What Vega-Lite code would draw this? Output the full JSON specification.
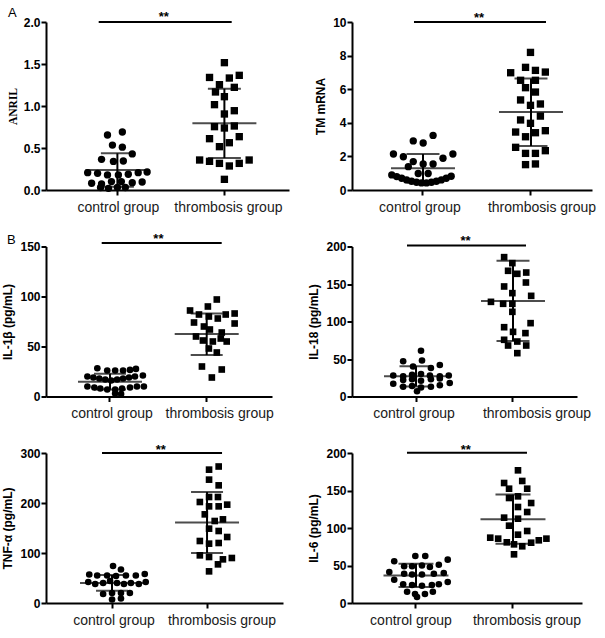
{
"$schema": "https://vega.github.io/schema/vega-lite/v6.json",
"background": "white",
"padding": {"left": 1, "top": 6, "right": 5, "bottom": 2},
"datasets": {
"pts": [
{"p":"ANRIL","g":"control group","v":0.655,"j":-1.0},{"p":"ANRIL","g":"control group","v":0.69,"j":0.5},{"p":"ANRIL","g":"control group","v":0.535,"j":-0.5},{"p":"ANRIL","g":"control group","v":0.51,"j":0.5},{"p":"ANRIL","g":"control group","v":0.43,"j":1.5},{"p":"ANRIL","g":"control group","v":0.365,"j":-1.6},{"p":"ANRIL","g":"control group","v":0.34,"j":-0.4},{"p":"ANRIL","g":"control group","v":0.345,"j":0.6},{"p":"ANRIL","g":"control group","v":0.206,"j":-3.0},{"p":"ANRIL","g":"control group","v":0.198,"j":-2.0},{"p":"ANRIL","g":"control group","v":0.18,"j":-1.0},{"p":"ANRIL","g":"control group","v":0.18,"j":0.1},{"p":"ANRIL","g":"control group","v":0.187,"j":1.1},{"p":"ANRIL","g":"control group","v":0.206,"j":2.1},{"p":"ANRIL","g":"control group","v":0.214,"j":3.0},{"p":"ANRIL","g":"control group","v":0.08,"j":-2.6},{"p":"ANRIL","g":"control group","v":0.071,"j":-1.6},{"p":"ANRIL","g":"control group","v":0.1,"j":-0.6},{"p":"ANRIL","g":"control group","v":0.1,"j":0.4},{"p":"ANRIL","g":"control group","v":0.087,"j":1.5},{"p":"ANRIL","g":"control group","v":0.095,"j":2.5},{"p":"ANRIL","g":"control group","v":0.03,"j":-1.7},{"p":"ANRIL","g":"control group","v":0.02,"j":-0.9},{"p":"ANRIL","g":"control group","v":0.03,"j":0.0},{"p":"ANRIL","g":"control group","v":0.03,"j":0.8},
{"p":"ANRIL","g":"thrombosis group","v":1.516,"j":0},{"p":"ANRIL","g":"thrombosis group","v":1.34,"j":-1.5},{"p":"ANRIL","g":"thrombosis group","v":1.333,"j":0.5},{"p":"ANRIL","g":"thrombosis group","v":1.365,"j":1.5},{"p":"ANRIL","g":"thrombosis group","v":1.254,"j":-0.5},{"p":"ANRIL","g":"thrombosis group","v":1.167,"j":-0.9},{"p":"ANRIL","g":"thrombosis group","v":1.222,"j":1.0},{"p":"ANRIL","g":"thrombosis group","v":1.111,"j":0},{"p":"ANRIL","g":"thrombosis group","v":1.016,"j":-1.0},{"p":"ANRIL","g":"thrombosis group","v":0.944,"j":1.0},{"p":"ANRIL","g":"thrombosis group","v":0.905,"j":0},{"p":"ANRIL","g":"thrombosis group","v":0.754,"j":-1.0},{"p":"ANRIL","g":"thrombosis group","v":0.738,"j":0},{"p":"ANRIL","g":"thrombosis group","v":0.762,"j":1.0},{"p":"ANRIL","g":"thrombosis group","v":0.611,"j":-1.5},{"p":"ANRIL","g":"thrombosis group","v":0.635,"j":1.5},{"p":"ANRIL","g":"thrombosis group","v":0.516,"j":-0.5},{"p":"ANRIL","g":"thrombosis group","v":0.563,"j":0.5},{"p":"ANRIL","g":"thrombosis group","v":0.357,"j":-2.5},{"p":"ANRIL","g":"thrombosis group","v":0.341,"j":-1.5},{"p":"ANRIL","g":"thrombosis group","v":0.317,"j":-0.5},{"p":"ANRIL","g":"thrombosis group","v":0.286,"j":0.5},{"p":"ANRIL","g":"thrombosis group","v":0.317,"j":1.5},{"p":"ANRIL","g":"thrombosis group","v":0.357,"j":2.5},{"p":"ANRIL","g":"thrombosis group","v":0.127,"j":0},
{"p":"TM","g":"control group","v":3.25,"j":1.07},{"p":"TM","g":"control group","v":2.92,"j":-0.93},{"p":"TM","g":"control group","v":2.8,"j":0.07},{"p":"TM","g":"control group","v":2.14,"j":-2.93},{"p":"TM","g":"control group","v":1.98,"j":-1.93},{"p":"TM","g":"control group","v":1.89,"j":2.07},{"p":"TM","g":"control group","v":2.14,"j":3.07},{"p":"TM","g":"control group","v":1.69,"j":-0.93},{"p":"TM","g":"control group","v":1.55,"j":0.07},{"p":"TM","g":"control group","v":1.55,"j":1.07},{"p":"TM","g":"control group","v":1.39,"j":-1.43},{"p":"TM","g":"control group","v":0.98,"j":-0.43},{"p":"TM","g":"control group","v":0.98,"j":0.57},{"p":"TM","g":"control group","v":0.9,"j":-3.1},{"p":"TM","g":"control group","v":0.8,"j":-2.6},{"p":"TM","g":"control group","v":0.7,"j":-2.1},{"p":"TM","g":"control group","v":0.6,"j":-1.6},{"p":"TM","g":"control group","v":0.52,"j":-1.1},{"p":"TM","g":"control group","v":0.46,"j":-0.6},{"p":"TM","g":"control group","v":0.42,"j":-0.1},{"p":"TM","g":"control group","v":0.42,"j":0.4},{"p":"TM","g":"control group","v":0.46,"j":0.9},{"p":"TM","g":"control group","v":0.52,"j":1.4},{"p":"TM","g":"control group","v":0.6,"j":1.9},{"p":"TM","g":"control group","v":0.7,"j":2.4},{"p":"TM","g":"control group","v":0.82,"j":2.9},
{"p":"TM","g":"thrombosis group","v":8.19,"j":0},{"p":"TM","g":"thrombosis group","v":7.3,"j":-0.5},{"p":"TM","g":"thrombosis group","v":7.12,"j":0.5},{"p":"TM","g":"thrombosis group","v":7.02,"j":1.5},{"p":"TM","g":"thrombosis group","v":6.98,"j":-2.0},{"p":"TM","g":"thrombosis group","v":6.53,"j":-1.0},{"p":"TM","g":"thrombosis group","v":6.53,"j":0.5},{"p":"TM","g":"thrombosis group","v":6.09,"j":-0.5},{"p":"TM","g":"thrombosis group","v":5.83,"j":0.5},{"p":"TM","g":"thrombosis group","v":5.36,"j":-1.0},{"p":"TM","g":"thrombosis group","v":5.04,"j":0},{"p":"TM","g":"thrombosis group","v":5.12,"j":1.0},{"p":"TM","g":"thrombosis group","v":4.4,"j":1.0},{"p":"TM","g":"thrombosis group","v":4.17,"j":-1.0},{"p":"TM","g":"thrombosis group","v":3.97,"j":0},{"p":"TM","g":"thrombosis group","v":3.45,"j":-1.5},{"p":"TM","g":"thrombosis group","v":3.17,"j":-0.5},{"p":"TM","g":"thrombosis group","v":3.41,"j":0.5},{"p":"TM","g":"thrombosis group","v":3.53,"j":1.5},{"p":"TM","g":"thrombosis group","v":2.54,"j":-1.5},{"p":"TM","g":"thrombosis group","v":2.34,"j":1.5},{"p":"TM","g":"thrombosis group","v":2.18,"j":-0.5},{"p":"TM","g":"thrombosis group","v":2.18,"j":0.5},{"p":"TM","g":"thrombosis group","v":1.51,"j":-0.5},{"p":"TM","g":"thrombosis group","v":1.55,"j":0.5},
{"p":"IL1b","g":"control group","v":28.3,"j":-1.8},{"p":"IL1b","g":"control group","v":26,"j":-0.8},{"p":"IL1b","g":"control group","v":26,"j":0},{"p":"IL1b","g":"control group","v":26,"j":0.8},{"p":"IL1b","g":"control group","v":26.6,"j":1.5},{"p":"IL1b","g":"control group","v":27.6,"j":2.1},{"p":"IL1b","g":"control group","v":20,"j":-2.8},{"p":"IL1b","g":"control group","v":19,"j":-2.2},{"p":"IL1b","g":"control group","v":18,"j":-1.6},{"p":"IL1b","g":"control group","v":17,"j":-1.0},{"p":"IL1b","g":"control group","v":16,"j":-0.4},{"p":"IL1b","g":"control group","v":17,"j":0.2},{"p":"IL1b","g":"control group","v":18,"j":0.8},{"p":"IL1b","g":"control group","v":19,"j":1.4},{"p":"IL1b","g":"control group","v":20,"j":2.0},{"p":"IL1b","g":"control group","v":21,"j":2.8},{"p":"IL1b","g":"control group","v":10,"j":-2.8},{"p":"IL1b","g":"control group","v":9,"j":-2.1},{"p":"IL1b","g":"control group","v":8,"j":-1.5},{"p":"IL1b","g":"control group","v":7,"j":-0.8},{"p":"IL1b","g":"control group","v":7,"j":0},{"p":"IL1b","g":"control group","v":8,"j":0.7},{"p":"IL1b","g":"control group","v":9,"j":1.5},{"p":"IL1b","g":"control group","v":10,"j":2.2},{"p":"IL1b","g":"control group","v":10,"j":2.9},{"p":"IL1b","g":"control group","v":3,"j":0},{"p":"IL1b","g":"control group","v":2.5,"j":0.6},
{"p":"IL1b","g":"thrombosis group","v":97,"j":0.5},{"p":"IL1b","g":"thrombosis group","v":90,"j":-0.4},{"p":"IL1b","g":"thrombosis group","v":86,"j":-2.2},{"p":"IL1b","g":"thrombosis group","v":82,"j":-1.3},{"p":"IL1b","g":"thrombosis group","v":80,"j":-0.3},{"p":"IL1b","g":"thrombosis group","v":82,"j":1.4},{"p":"IL1b","g":"thrombosis group","v":83,"j":2.3},{"p":"IL1b","g":"thrombosis group","v":78,"j":0.6},{"p":"IL1b","g":"thrombosis group","v":74,"j":-1.8},{"p":"IL1b","g":"thrombosis group","v":70,"j":-0.8},{"p":"IL1b","g":"thrombosis group","v":73,"j":2.3},{"p":"IL1b","g":"thrombosis group","v":67,"j":-0.2},{"p":"IL1b","g":"thrombosis group","v":64,"j":1.0},{"p":"IL1b","g":"thrombosis group","v":60,"j":-1.6},{"p":"IL1b","g":"thrombosis group","v":56,"j":-0.9},{"p":"IL1b","g":"thrombosis group","v":55,"j":0.1},{"p":"IL1b","g":"thrombosis group","v":58,"j":0.9},{"p":"IL1b","g":"thrombosis group","v":55,"j":1.5},{"p":"IL1b","g":"thrombosis group","v":48,"j":-0.3},{"p":"IL1b","g":"thrombosis group","v":44,"j":0.5},{"p":"IL1b","g":"thrombosis group","v":30,"j":-1.0},{"p":"IL1b","g":"thrombosis group","v":27,"j":1.0},{"p":"IL1b","g":"thrombosis group","v":19,"j":0},
{"p":"IL18","g":"control group","v":61,"j":0},{"p":"IL18","g":"control group","v":47,"j":-1.8},{"p":"IL18","g":"control group","v":48,"j":0.1},{"p":"IL18","g":"control group","v":42,"j":1.9},{"p":"IL18","g":"control group","v":40,"j":-0.8},{"p":"IL18","g":"control group","v":38,"j":1.0},{"p":"IL18","g":"control group","v":28,"j":-2.8},{"p":"IL18","g":"control group","v":27,"j":-1.8},{"p":"IL18","g":"control group","v":29,"j":-0.9},{"p":"IL18","g":"control group","v":30,"j":0},{"p":"IL18","g":"control group","v":28,"j":0.9},{"p":"IL18","g":"control group","v":27,"j":1.9},{"p":"IL18","g":"control group","v":28,"j":2.8},{"p":"IL18","g":"control group","v":22,"j":-1.8},{"p":"IL18","g":"control group","v":23,"j":-0.9},{"p":"IL18","g":"control group","v":21,"j":0},{"p":"IL18","g":"control group","v":23,"j":1.0},{"p":"IL18","g":"control group","v":24,"j":1.9},{"p":"IL18","g":"control group","v":17,"j":-2.8},{"p":"IL18","g":"control group","v":13,"j":-1.8},{"p":"IL18","g":"control group","v":14,"j":-0.9},{"p":"IL18","g":"control group","v":12,"j":0},{"p":"IL18","g":"control group","v":13,"j":1.0},{"p":"IL18","g":"control group","v":15,"j":1.9},{"p":"IL18","g":"control group","v":18,"j":2.9},{"p":"IL18","g":"control group","v":7,"j":-0.4},
{"p":"IL18","g":"thrombosis group","v":185.8,"j":-1.4},{"p":"IL18","g":"thrombosis group","v":177.8,"j":-0.57},{"p":"IL18","g":"thrombosis group","v":167.6,"j":-1.0},{"p":"IL18","g":"thrombosis group","v":163.6,"j":-0.07},{"p":"IL18","g":"thrombosis group","v":165.3,"j":0.83},{"p":"IL18","g":"thrombosis group","v":152,"j":0.8},{"p":"IL18","g":"thrombosis group","v":146.7,"j":-1.4},{"p":"IL18","g":"thrombosis group","v":137.8,"j":-0.57},{"p":"IL18","g":"thrombosis group","v":134.2,"j":1.33},{"p":"IL18","g":"thrombosis group","v":126.2,"j":-2.73},{"p":"IL18","g":"thrombosis group","v":123.6,"j":-1.5},{"p":"IL18","g":"thrombosis group","v":123.6,"j":-0.57},{"p":"IL18","g":"thrombosis group","v":112.9,"j":-0.57},{"p":"IL18","g":"thrombosis group","v":92.4,"j":-1.4},{"p":"IL18","g":"thrombosis group","v":97.8,"j":1.27},{"p":"IL18","g":"thrombosis group","v":86.2,"j":-0.5},{"p":"IL18","g":"thrombosis group","v":84.5,"j":0.75},{"p":"IL18","g":"thrombosis group","v":75.6,"j":-1.4},{"p":"IL18","g":"thrombosis group","v":68,"j":-1.0},{"p":"IL18","g":"thrombosis group","v":73.3,"j":-0.07},{"p":"IL18","g":"thrombosis group","v":68,"j":0.83},{"p":"IL18","g":"thrombosis group","v":57.8,"j":-0.07},
{"p":"TNF","g":"control group","v":74,"j":-0.5},{"p":"TNF","g":"control group","v":67,"j":0.3},{"p":"TNF","g":"control group","v":57,"j":-2.9},{"p":"TNF","g":"control group","v":55,"j":-2.1},{"p":"TNF","g":"control group","v":55,"j":-1.1},{"p":"TNF","g":"control group","v":54,"j":-0.2},{"p":"TNF","g":"control group","v":55,"j":0.8},{"p":"TNF","g":"control group","v":55,"j":1.8},{"p":"TNF","g":"control group","v":58,"j":2.7},{"p":"TNF","g":"control group","v":42,"j":-3.0},{"p":"TNF","g":"control group","v":38,"j":-2.3},{"p":"TNF","g":"control group","v":40,"j":-1.5},{"p":"TNF","g":"control group","v":44,"j":-0.8},{"p":"TNF","g":"control group","v":40,"j":-0.1},{"p":"TNF","g":"control group","v":38,"j":0.6},{"p":"TNF","g":"control group","v":40,"j":1.3},{"p":"TNF","g":"control group","v":38,"j":2.1},{"p":"TNF","g":"control group","v":42,"j":2.8},{"p":"TNF","g":"control group","v":18,"j":-1.5},{"p":"TNF","g":"control group","v":20,"j":-0.6},{"p":"TNF","g":"control group","v":20,"j":0.3},{"p":"TNF","g":"control group","v":20,"j":1.2},{"p":"TNF","g":"control group","v":7,"j":-0.6},{"p":"TNF","g":"control group","v":9,"j":0.3},
{"p":"TNF","g":"thrombosis group","v":273,"j":0.57},{"p":"TNF","g":"thrombosis group","v":266.7,"j":-0.4},{"p":"TNF","g":"thrombosis group","v":246.7,"j":-0.4},{"p":"TNF","g":"thrombosis group","v":235.3,"j":0.57},{"p":"TNF","g":"thrombosis group","v":202,"j":-1.33},{"p":"TNF","g":"thrombosis group","v":212,"j":-0.4},{"p":"TNF","g":"thrombosis group","v":212,"j":0.5},{"p":"TNF","g":"thrombosis group","v":196.7,"j":1.43},{"p":"TNF","g":"thrombosis group","v":193.3,"j":-0.4},{"p":"TNF","g":"thrombosis group","v":193.3,"j":0.57},{"p":"TNF","g":"thrombosis group","v":177.3,"j":-0.83},{"p":"TNF","g":"thrombosis group","v":164,"j":0.17},{"p":"TNF","g":"thrombosis group","v":167.3,"j":1.0},{"p":"TNF","g":"thrombosis group","v":148.7,"j":-0.4},{"p":"TNF","g":"thrombosis group","v":144,"j":0.57},{"p":"TNF","g":"thrombosis group","v":124,"j":-1.33},{"p":"TNF","g":"thrombosis group","v":132,"j":1.43},{"p":"TNF","g":"thrombosis group","v":118.7,"j":-0.4},{"p":"TNF","g":"thrombosis group","v":120,"j":0.57},{"p":"TNF","g":"thrombosis group","v":95.3,"j":-1.33},{"p":"TNF","g":"thrombosis group","v":92,"j":-0.4},{"p":"TNF","g":"thrombosis group","v":87.3,"j":1.0},{"p":"TNF","g":"thrombosis group","v":90,"j":1.9},{"p":"TNF","g":"thrombosis group","v":77.3,"j":0.5},{"p":"TNF","g":"thrombosis group","v":63.3,"j":-0.4},
{"p":"IL6","g":"control group","v":62.7,"j":-0.57},{"p":"IL6","g":"control group","v":62.7,"j":0.43},{"p":"IL6","g":"control group","v":55.6,"j":-2.7},{"p":"IL6","g":"control group","v":57.8,"j":2.7},{"p":"IL6","g":"control group","v":41.3,"j":-3.2},{"p":"IL6","g":"control group","v":31,"j":-2.7},{"p":"IL6","g":"control group","v":28,"j":2.7},{"p":"IL6","g":"control group","v":49,"j":-1.7},{"p":"IL6","g":"control group","v":49,"j":-0.9},{"p":"IL6","g":"control group","v":50,"j":0.1},{"p":"IL6","g":"control group","v":48,"j":0.9},{"p":"IL6","g":"control group","v":51,"j":1.8},{"p":"IL6","g":"control group","v":39,"j":-1.7},{"p":"IL6","g":"control group","v":38,"j":-0.9},{"p":"IL6","g":"control group","v":38,"j":0.1},{"p":"IL6","g":"control group","v":39,"j":1.3},{"p":"IL6","g":"control group","v":40,"j":2.3},{"p":"IL6","g":"control group","v":25,"j":-1.8},{"p":"IL6","g":"control group","v":24,"j":-0.9},{"p":"IL6","g":"control group","v":23,"j":0.1},{"p":"IL6","g":"control group","v":24,"j":1.1},{"p":"IL6","g":"control group","v":25,"j":1.8},{"p":"IL6","g":"control group","v":15,"j":-1.4},{"p":"IL6","g":"control group","v":12,"j":-0.6},{"p":"IL6","g":"control group","v":12,"j":0.4},{"p":"IL6","g":"control group","v":15,"j":1.2},{"p":"IL6","g":"control group","v":8,"j":-0.4},
{"p":"IL6","g":"thrombosis group","v":176.9,"j":0},{"p":"IL6","g":"thrombosis group","v":160,"j":-1.4},{"p":"IL6","g":"thrombosis group","v":162.7,"j":0.43},{"p":"IL6","g":"thrombosis group","v":152.4,"j":-0.9},{"p":"IL6","g":"thrombosis group","v":152.4,"j":0.93},{"p":"IL6","g":"thrombosis group","v":140,"j":-0.9},{"p":"IL6","g":"thrombosis group","v":142.2,"j":0},{"p":"IL6","g":"thrombosis group","v":128,"j":0},{"p":"IL6","g":"thrombosis group","v":121.3,"j":0.93},{"p":"IL6","g":"thrombosis group","v":133.3,"j":1.33},{"p":"IL6","g":"thrombosis group","v":113.8,"j":-1.4},{"p":"IL6","g":"thrombosis group","v":112.4,"j":0},{"p":"IL6","g":"thrombosis group","v":103.1,"j":-0.9},{"p":"IL6","g":"thrombosis group","v":96,"j":0.93},{"p":"IL6","g":"thrombosis group","v":91.1,"j":0},{"p":"IL6","g":"thrombosis group","v":87.1,"j":-2.8},{"p":"IL6","g":"thrombosis group","v":85.8,"j":-2.0},{"p":"IL6","g":"thrombosis group","v":80.9,"j":-1.13},{"p":"IL6","g":"thrombosis group","v":78.2,"j":-0.4},{"p":"IL6","g":"thrombosis group","v":75.6,"j":0.43},{"p":"IL6","g":"thrombosis group","v":80.4,"j":1.33},{"p":"IL6","g":"thrombosis group","v":83.6,"j":2.1},{"p":"IL6","g":"thrombosis group","v":85.8,"j":2.87},{"p":"IL6","g":"thrombosis group","v":64.9,"j":-0.4}
],
"stats": [
{"p":"ANRIL","g":"control group","mean":0.238,"lo":0.04,"hi":0.437},{"p":"ANRIL","g":"thrombosis group","mean":0.794,"lo":0.381,"hi":1.206},
{"p":"TM","g":"control group","mean":1.29,"lo":0.44,"hi":2.14},{"p":"TM","g":"thrombosis group","mean":4.64,"lo":2.62,"hi":6.63},
{"p":"IL1b","g":"control group","mean":14.8,"lo":7,"hi":22.8},{"p":"IL1b","g":"thrombosis group","mean":62.4,"lo":41.5,"hi":83},
{"p":"IL18","g":"control group","mean":27,"lo":13.5,"hi":40.5},{"p":"IL18","g":"thrombosis group","mean":127.5,"lo":74,"hi":181},
{"p":"TNF","g":"control group","mean":40,"lo":24.5,"hi":56},{"p":"TNF","g":"thrombosis group","mean":161,"lo":100,"hi":222},
{"p":"IL6","g":"control group","mean":36.8,"lo":21.2,"hi":52.4},{"p":"IL6","g":"thrombosis group","mean":111.8,"lo":79,"hi":144.6}
],
"sig": [
{"p":"ANRIL","from":"control group","to":"thrombosis group","label":"**"},
{"p":"TM","from":"control group","to":"thrombosis group","label":"**"},
{"p":"IL1b","from":"control group","to":"thrombosis group","label":"**"},
{"p":"IL18","from":"control group","to":"thrombosis group","label":"**"},
{"p":"TNF","from":"control group","to":"thrombosis group","label":"**"},
{"p":"IL6","from":"control group","to":"thrombosis group","label":"**"}
]
},
"columns": 2,
"spacing": {"row": 56.5, "column": 63},
"bounds": "flush",
"align": "each",
"concat": [
{
"width": 243, "height": 168,
"layer": [
{"data": {"name": "pts"}, "transform": [{"filter": "datum.p === 'ANRIL'"}],
 "mark": {"type": "point", "filled": true, "color": "black", "opacity": 1, "size": 54, "strokeWidth": 0},
 "encoding": {
  "x": {"field": "g", "type": "nominal", "title": null, "scale": {"type": "band", "domain": ["control group", "thrombosis group"], "paddingInner": 0, "paddingOuter": 0.1355, "align": 0.617},
        "axis": {"labelOffset": {"condition": {"test": "datum.value === 'thrombosis group'", "value": 4}, "value": 1}}},
  "xOffset": {"field": "j", "type": "quantitative", "scale": {"domain": [-5.35, 5.35]}},
  "y": {"field": "v", "type": "quantitative", "title": "ANRIL", "scale": {"domain": [0, 2], "nice": false}, "axis": {"values": [0, 0.5, 1, 1.5, 2], "tickCount": 10, "format": ".1f", "labelOverlap": false, "titleFont": "Liberation Serif", "titleFontSize": 11.5, "labelFontWeight": "bold", "labelFontSize": 12}},
  "shape": {"field": "g", "type": "nominal", "scale": {"domain": ["control group", "thrombosis group"], "range": ["circle", "square"]}, "legend": null}
 }},
{"data": {"name": "stats"}, "transform": [{"filter": "datum.p === 'ANRIL'"}], "mark": {"type": "tick", "size": 64, "thickness": 2, "color": "black"},
 "encoding": {"x": {"field": "g", "type": "nominal", "title": null}, "y": {"field": "mean", "type": "quantitative", "title": "ANRIL"}}},
{"data": {"name": "stats"}, "transform": [{"filter": "datum.p === 'ANRIL'"}], "mark": {"type": "tick", "size": 33, "thickness": 2, "color": "black"},
 "encoding": {"x": {"field": "g", "type": "nominal", "title": null}, "y": {"field": "lo", "type": "quantitative", "title": "ANRIL"}}},
{"data": {"name": "stats"}, "transform": [{"filter": "datum.p === 'ANRIL'"}], "mark": {"type": "tick", "size": 33, "thickness": 2, "color": "black"},
 "encoding": {"x": {"field": "g", "type": "nominal", "title": null}, "y": {"field": "hi", "type": "quantitative", "title": "ANRIL"}}},
{"data": {"name": "stats"}, "transform": [{"filter": "datum.p === 'ANRIL'"}], "mark": {"type": "rule", "strokeWidth": 2, "color": "black"},
 "encoding": {"x": {"field": "g", "type": "nominal", "title": null}, "y": {"field": "lo", "type": "quantitative", "title": "ANRIL"}, "y2": {"field": "hi"}}},
{"data": {"name": "sig"}, "transform": [{"filter": "datum.p === 'ANRIL'"}], "mark": {"type": "rule", "strokeWidth": 2, "color": "black", "xOffset": -18.7, "x2Offset": 7.3},
 "encoding": {"x": {"field": "from", "type": "nominal", "title": null}, "x2": {"field": "to"}, "y": {"datum": 2}}},
{"data": {"name": "sig"}, "transform": [{"filter": "datum.p === 'ANRIL'"}], "mark": {"type": "text", "fontSize": 13, "fontWeight": "bold", "baseline": "alphabetic", "dx": 46.3, "dy": -1, "color": "black"},
 "encoding": {"x": {"field": "from", "type": "nominal", "title": null}, "y": {"datum": 2}, "text": {"field": "label"}}},
{"data": {"values": [{"label": "A"}]}, "mark": {"type": "text", "fontSize": 13, "align": "left", "baseline": "alphabetic", "dx": -109.4, "dy": -5.3, "color": "black"},
 "encoding": {"x": {"datum": "control group"}, "y": {"datum": 2}, "text": {"field": "label"}}}
]
},
{
"width": 240, "height": 168,
"layer": [
{"data": {"name": "pts"}, "transform": [{"filter": "datum.p === 'TM'"}],
 "mark": {"type": "point", "filled": true, "color": "black", "opacity": 1, "size": 54, "strokeWidth": 0},
 "encoding": {
  "x": {"field": "g", "type": "nominal", "title": null, "scale": {"type": "band", "domain": ["control group", "thrombosis group"], "paddingInner": 0, "paddingOuter": 0.111, "align": 0.708},
        "axis": {"labelOffset": {"condition": {"test": "datum.value === 'thrombosis group'", "value": 11}, "value": -3}}},
  "xOffset": {"field": "j", "type": "quantitative", "scale": {"domain": [-5.4, 5.4]}},
  "y": {"field": "v", "type": "quantitative", "title": "TM mRNA", "scale": {"domain": [0, 10], "nice": false}, "axis": {"values": [0, 2, 4, 6, 8, 10], "tickCount": 10, "labelOverlap": false, "labelFontWeight": "bold", "labelFontSize": 12}},
  "shape": {"field": "g", "type": "nominal", "scale": {"domain": ["control group", "thrombosis group"], "range": ["circle", "square"]}, "legend": null}
 }},
{"data": {"name": "stats"}, "transform": [{"filter": "datum.p === 'TM'"}], "mark": {"type": "tick", "size": 64, "thickness": 2, "color": "black"},
 "encoding": {"x": {"field": "g", "type": "nominal", "title": null}, "y": {"field": "mean", "type": "quantitative", "title": "TM mRNA"}}},
{"data": {"name": "stats"}, "transform": [{"filter": "datum.p === 'TM'"}], "mark": {"type": "tick", "size": 33, "thickness": 2, "color": "black"},
 "encoding": {"x": {"field": "g", "type": "nominal", "title": null}, "y": {"field": "lo", "type": "quantitative", "title": "TM mRNA"}}},
{"data": {"name": "stats"}, "transform": [{"filter": "datum.p === 'TM'"}], "mark": {"type": "tick", "size": 33, "thickness": 2, "color": "black"},
 "encoding": {"x": {"field": "g", "type": "nominal", "title": null}, "y": {"field": "hi", "type": "quantitative", "title": "TM mRNA"}}},
{"data": {"name": "stats"}, "transform": [{"filter": "datum.p === 'TM'"}], "mark": {"type": "rule", "strokeWidth": 2, "color": "black"},
 "encoding": {"x": {"field": "g", "type": "nominal", "title": null}, "y": {"field": "lo", "type": "quantitative", "title": "TM mRNA"}, "y2": {"field": "hi"}}},
{"data": {"name": "sig"}, "transform": [{"filter": "datum.p === 'TM'"}], "mark": {"type": "rule", "strokeWidth": 2, "color": "black", "xOffset": -9, "x2Offset": 15},
 "encoding": {"x": {"field": "from", "type": "nominal", "title": null}, "x2": {"field": "to"}, "y": {"datum": 10}}},
{"data": {"name": "sig"}, "transform": [{"filter": "datum.p === 'TM'"}], "mark": {"type": "text", "fontSize": 13, "fontWeight": "bold", "baseline": "alphabetic", "dx": 56, "dy": -0.5, "color": "black"},
 "encoding": {"x": {"field": "from", "type": "nominal", "title": null}, "y": {"datum": 10}, "text": {"field": "label"}}}
]
},
{
"width": 226, "height": 150,
"layer": [
{"data": {"name": "pts"}, "transform": [{"filter": "datum.p === 'IL1b'"}],
 "mark": {"type": "point", "filled": true, "color": "black", "opacity": 1, "size": 44, "strokeWidth": 0},
 "encoding": {
  "x": {"field": "g", "type": "nominal", "title": null, "scale": {"type": "band", "domain": ["control group", "thrombosis group"], "paddingInner": 0, "paddingOuter": 0.1686, "align": 0.48},
        "axis": {"labelOffset": {"condition": {"test": "datum.value === 'thrombosis group'", "value": 13}, "value": 2}}},
  "xOffset": {"field": "j", "type": "quantitative", "scale": {"domain": [-4.835, 4.835]}},
  "y": {"field": "v", "type": "quantitative", "title": "IL-1β (pg/mL)", "scale": {"domain": [0, 150], "nice": false}, "axis": {"values": [0, 50, 100, 150], "tickCount": 10, "labelOverlap": false, "labelFontWeight": "bold", "labelFontSize": 12}},
  "shape": {"field": "g", "type": "nominal", "scale": {"domain": ["control group", "thrombosis group"], "range": ["circle", "square"]}, "legend": null}
 }},
{"data": {"name": "stats"}, "transform": [{"filter": "datum.p === 'IL1b'"}], "mark": {"type": "tick", "size": 64, "thickness": 2, "color": "black"},
 "encoding": {"x": {"field": "g", "type": "nominal", "title": null}, "y": {"field": "mean", "type": "quantitative", "title": "IL-1β (pg/mL)"}}},
{"data": {"name": "stats"}, "transform": [{"filter": "datum.p === 'IL1b'"}], "mark": {"type": "tick", "size": 32, "thickness": 2, "color": "black"},
 "encoding": {"x": {"field": "g", "type": "nominal", "title": null}, "y": {"field": "lo", "type": "quantitative", "title": "IL-1β (pg/mL)"}}},
{"data": {"name": "stats"}, "transform": [{"filter": "datum.p === 'IL1b'"}], "mark": {"type": "tick", "size": 32, "thickness": 2, "color": "black"},
 "encoding": {"x": {"field": "g", "type": "nominal", "title": null}, "y": {"field": "hi", "type": "quantitative", "title": "IL-1β (pg/mL)"}}},
{"data": {"name": "stats"}, "transform": [{"filter": "datum.p === 'IL1b'"}], "mark": {"type": "rule", "strokeWidth": 2, "color": "black"},
 "encoding": {"x": {"field": "g", "type": "nominal", "title": null}, "y": {"field": "lo", "type": "quantitative", "title": "IL-1β (pg/mL)"}, "y2": {"field": "hi"}}},
{"data": {"name": "sig"}, "transform": [{"filter": "datum.p === 'IL1b'"}], "mark": {"type": "rule", "strokeWidth": 2, "color": "black", "xOffset": -8.3, "x2Offset": 15, "clip": false},
 "encoding": {"x": {"field": "from", "type": "nominal", "title": null}, "x2": {"field": "to"}, "y": {"datum": 153.4}}},
{"data": {"name": "sig"}, "transform": [{"filter": "datum.p === 'IL1b'"}], "mark": {"type": "text", "fontSize": 13, "fontWeight": "bold", "baseline": "alphabetic", "dx": 48.4, "dy": -3.2, "color": "black"},
 "encoding": {"x": {"field": "from", "type": "nominal", "title": null}, "y": {"datum": 150}, "text": {"field": "label"}}},
{"data": {"values": [{"label": "B"}]}, "mark": {"type": "text", "fontSize": 13, "align": "left", "baseline": "alphabetic", "dx": -103, "dy": -2.7, "color": "black"},
 "encoding": {"x": {"datum": "control group"}, "y": {"datum": 150}, "text": {"field": "label"}}}
]
},
{
"width": 225, "height": 150,
"layer": [
{"data": {"name": "pts"}, "transform": [{"filter": "datum.p === 'IL18'"}],
 "mark": {"type": "point", "filled": true, "color": "black", "opacity": 1, "size": 44, "strokeWidth": 0},
 "encoding": {
  "x": {"field": "g", "type": "nominal", "title": null, "scale": {"type": "band", "domain": ["control group", "thrombosis group"], "paddingInner": 0, "paddingOuter": 0.1598, "align": 0.5},
        "axis": {"labelOffset": {"condition": {"test": "datum.value === 'thrombosis group'", "value": 24}, "value": -2}}},
  "xOffset": {"field": "j", "type": "quantitative", "scale": {"domain": [-4.85, 4.85]}},
  "y": {"field": "v", "type": "quantitative", "title": "IL-18 (pg/mL)", "scale": {"domain": [0, 200], "nice": false}, "axis": {"values": [0, 50, 100, 150, 200], "tickCount": 10, "labelOverlap": false, "labelFontWeight": "bold", "labelFontSize": 12}},
  "shape": {"field": "g", "type": "nominal", "scale": {"domain": ["control group", "thrombosis group"], "range": ["circle", "square"]}, "legend": null}
 }},
{"data": {"name": "stats"}, "transform": [{"filter": "datum.p === 'IL18'"}], "mark": {"type": "tick", "size": 64, "thickness": 2, "color": "black"},
 "encoding": {"x": {"field": "g", "type": "nominal", "title": null}, "y": {"field": "mean", "type": "quantitative", "title": "IL-18 (pg/mL)"}}},
{"data": {"name": "stats"}, "transform": [{"filter": "datum.p === 'IL18'"}], "mark": {"type": "tick", "size": 33, "thickness": 2, "color": "black"},
 "encoding": {"x": {"field": "g", "type": "nominal", "title": null}, "y": {"field": "lo", "type": "quantitative", "title": "IL-18 (pg/mL)"}}},
{"data": {"name": "stats"}, "transform": [{"filter": "datum.p === 'IL18'"}], "mark": {"type": "tick", "size": 33, "thickness": 2, "color": "black"},
 "encoding": {"x": {"field": "g", "type": "nominal", "title": null}, "y": {"field": "hi", "type": "quantitative", "title": "IL-18 (pg/mL)"}}},
{"data": {"name": "stats"}, "transform": [{"filter": "datum.p === 'IL18'"}], "mark": {"type": "rule", "strokeWidth": 2, "color": "black"},
 "encoding": {"x": {"field": "g", "type": "nominal", "title": null}, "y": {"field": "lo", "type": "quantitative", "title": "IL-18 (pg/mL)"}, "y2": {"field": "hi"}}},
{"data": {"name": "sig"}, "transform": [{"filter": "datum.p === 'IL18'"}], "mark": {"type": "rule", "strokeWidth": 2, "color": "black", "xOffset": -9, "x2Offset": 13, "clip": false},
 "encoding": {"x": {"field": "from", "type": "nominal", "title": null}, "x2": {"field": "to"}, "y": {"datum": 201.3}}},
{"data": {"name": "sig"}, "transform": [{"filter": "datum.p === 'IL18'"}], "mark": {"type": "text", "fontSize": 13, "fontWeight": "bold", "baseline": "alphabetic", "dx": 49.5, "dy": -1.5, "color": "black"},
 "encoding": {"x": {"field": "from", "type": "nominal", "title": null}, "y": {"datum": 200}, "text": {"field": "label"}}}
]
},
{
"width": 237, "height": 150,
"layer": [
{"data": {"name": "pts"}, "transform": [{"filter": "datum.p === 'TNF'"}],
 "mark": {"type": "point", "filled": true, "color": "black", "opacity": 1, "size": 44, "strokeWidth": 0},
 "encoding": {
  "x": {"field": "g", "type": "nominal", "title": null, "scale": {"type": "band", "domain": ["control group", "thrombosis group"], "paddingInner": 0, "paddingOuter": 0.247, "align": 0.394},
        "axis": {"labelOffset": {"condition": {"test": "datum.value === 'thrombosis group'", "value": 15}, "value": 2}}},
  "xOffset": {"field": "j", "type": "quantitative", "scale": {"domain": [-4.75, 4.75]}},
  "y": {"field": "v", "type": "quantitative", "title": "TNF-α (pg/mL)", "scale": {"domain": [0, 300], "nice": false}, "axis": {"values": [0, 100, 200, 300], "tickCount": 10, "labelOverlap": false, "labelFontWeight": "bold", "labelFontSize": 12}},
  "shape": {"field": "g", "type": "nominal", "scale": {"domain": ["control group", "thrombosis group"], "range": ["circle", "square"]}, "legend": null}
 }},
{"data": {"name": "stats"}, "transform": [{"filter": "datum.p === 'TNF'"}], "mark": {"type": "tick", "size": 64, "thickness": 2, "color": "black"},
 "encoding": {"x": {"field": "g", "type": "nominal", "title": null}, "y": {"field": "mean", "type": "quantitative", "title": "TNF-α (pg/mL)"}}},
{"data": {"name": "stats"}, "transform": [{"filter": "datum.p === 'TNF'"}], "mark": {"type": "tick", "size": 32, "thickness": 2, "color": "black"},
 "encoding": {"x": {"field": "g", "type": "nominal", "title": null}, "y": {"field": "lo", "type": "quantitative", "title": "TNF-α (pg/mL)"}}},
{"data": {"name": "stats"}, "transform": [{"filter": "datum.p === 'TNF'"}], "mark": {"type": "tick", "size": 32, "thickness": 2, "color": "black"},
 "encoding": {"x": {"field": "g", "type": "nominal", "title": null}, "y": {"field": "hi", "type": "quantitative", "title": "TNF-α (pg/mL)"}}},
{"data": {"name": "stats"}, "transform": [{"filter": "datum.p === 'TNF'"}], "mark": {"type": "rule", "strokeWidth": 2, "color": "black"},
 "encoding": {"x": {"field": "g", "type": "nominal", "title": null}, "y": {"field": "lo", "type": "quantitative", "title": "TNF-α (pg/mL)"}, "y2": {"field": "hi"}}},
{"data": {"name": "sig"}, "transform": [{"filter": "datum.p === 'TNF'"}], "mark": {"type": "rule", "strokeWidth": 2, "color": "black", "xOffset": -10, "x2Offset": 15},
 "encoding": {"x": {"field": "from", "type": "nominal", "title": null}, "x2": {"field": "to"}, "y": {"datum": 300}}},
{"data": {"name": "sig"}, "transform": [{"filter": "datum.p === 'TNF'"}], "mark": {"type": "text", "fontSize": 13, "fontWeight": "bold", "baseline": "alphabetic", "dx": 48.7, "dy": 0.5, "color": "black"},
 "encoding": {"x": {"field": "from", "type": "nominal", "title": null}, "y": {"datum": 300}, "text": {"field": "label"}}}
]
},
{
"width": 230, "height": 150,
"layer": [
{"data": {"name": "pts"}, "transform": [{"filter": "datum.p === 'IL6'"}],
 "mark": {"type": "point", "filled": true, "color": "black", "opacity": 1, "size": 44, "strokeWidth": 0},
 "encoding": {
  "x": {"field": "g", "type": "nominal", "title": null, "scale": {"type": "band", "domain": ["control group", "thrombosis group"], "paddingInner": 0, "paddingOuter": 0.1856, "align": 0.43},
        "axis": {"labelOffset": {"condition": {"test": "datum.value === 'thrombosis group'", "value": 14}, "value": -5}}},
  "xOffset": {"field": "j", "type": "quantitative", "scale": {"domain": [-4.85, 4.85]}},
  "y": {"field": "v", "type": "quantitative", "title": "IL-6 (pg/mL)", "scale": {"domain": [0, 200], "nice": false}, "axis": {"values": [0, 50, 100, 150, 200], "tickCount": 10, "labelOverlap": false, "labelFontWeight": "bold", "labelFontSize": 12}},
  "shape": {"field": "g", "type": "nominal", "scale": {"domain": ["control group", "thrombosis group"], "range": ["circle", "square"]}, "legend": null}
 }},
{"data": {"name": "stats"}, "transform": [{"filter": "datum.p === 'IL6'"}], "mark": {"type": "tick", "size": 65, "thickness": 2, "color": "black"},
 "encoding": {"x": {"field": "g", "type": "nominal", "title": null}, "y": {"field": "mean", "type": "quantitative", "title": "IL-6 (pg/mL)"}}},
{"data": {"name": "stats"}, "transform": [{"filter": "datum.p === 'IL6'"}], "mark": {"type": "tick", "size": 35, "thickness": 2, "color": "black"},
 "encoding": {"x": {"field": "g", "type": "nominal", "title": null}, "y": {"field": "lo", "type": "quantitative", "title": "IL-6 (pg/mL)"}}},
{"data": {"name": "stats"}, "transform": [{"filter": "datum.p === 'IL6'"}], "mark": {"type": "tick", "size": 35, "thickness": 2, "color": "black"},
 "encoding": {"x": {"field": "g", "type": "nominal", "title": null}, "y": {"field": "hi", "type": "quantitative", "title": "IL-6 (pg/mL)"}}},
{"data": {"name": "stats"}, "transform": [{"filter": "datum.p === 'IL6'"}], "mark": {"type": "rule", "strokeWidth": 2, "color": "black"},
 "encoding": {"x": {"field": "g", "type": "nominal", "title": null}, "y": {"field": "lo", "type": "quantitative", "title": "IL-6 (pg/mL)"}, "y2": {"field": "hi"}}},
{"data": {"name": "sig"}, "transform": [{"filter": "datum.p === 'IL6'"}], "mark": {"type": "rule", "strokeWidth": 2, "color": "black", "xOffset": -9, "x2Offset": 14, "clip": false},
 "encoding": {"x": {"field": "from", "type": "nominal", "title": null}, "x2": {"field": "to"}, "y": {"datum": 200.5}}},
{"data": {"name": "sig"}, "transform": [{"filter": "datum.p === 'IL6'"}], "mark": {"type": "text", "fontSize": 13, "fontWeight": "bold", "baseline": "alphabetic", "dx": 49.8, "dy": 0.5, "color": "black"},
 "encoding": {"x": {"field": "from", "type": "nominal", "title": null}, "y": {"datum": 200}, "text": {"field": "label"}}}
]
}
],
"config": {
 "font": "Liberation Sans",
 "view": {"stroke": null},
 "axis": {"domainColor": "black", "domainWidth": 2, "tickColor": "black", "tickWidth": 2, "tickSize": 5, "grid": false, "labelColor": "black", "titleColor": "black", "labelFont": "Liberation Sans", "titleFont": "Liberation Sans", "labelOverlap": false},
 "axisY": {"labelFontSize": 12, "labelFontWeight": "bold", "labelPadding": 1, "titleFontSize": 12, "titleFontWeight": "bold", "titlePadding": 5},
 "axisX": {"labelFontSize": 14, "labelAngle": 0, "labelPadding": 5, "labelColor": "#1a1a1a"}
}
}
